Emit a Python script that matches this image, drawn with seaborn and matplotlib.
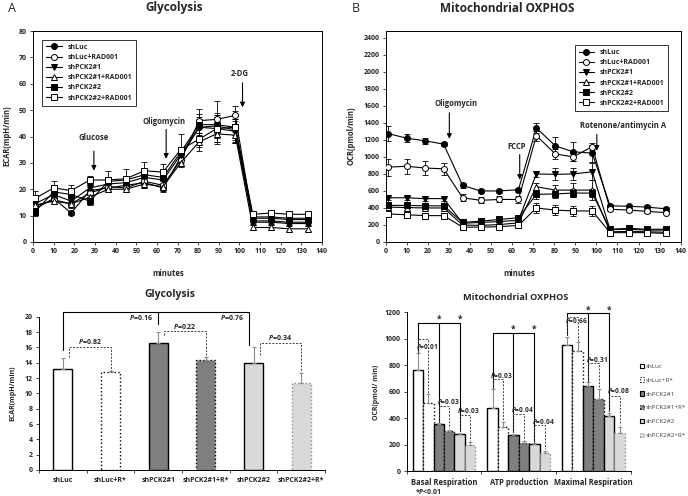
import numpy as np
import pandas as pd
import seaborn as sns
import matplotlib
matplotlib.use("Agg")
import matplotlib.pyplot as plt
from matplotlib.patches import Patch

# ---- data ----
minutes = [1, 10, 18.5, 27.5, 36.5, 45, 54, 63, 71.5, 80.5, 89, 98, 106.5, 115.5, 124, 133]
series_names = ["shLuc", "shLuc+RAD001", "shPCK2#1", "shPCK2#1+RAD001", "shPCK2#2", "shPCK2#2+RAD001"]

ecar_shluc = [12.5, 16.5, 11, 19.5, 20.5, 21.5, 22.5, 20.5, 32, 43.5, 44, 42.5, 9, 9, 8.5, 8.5]
ecar_shluc_rad = [13.5, 16, 14.5, 18.5, 21, 20.5, 23, 21.5, 31, 46, 46.5, 48, 8, 8, 7.5, 7.5]
ecar_pck1 = [14.5, 18, 15.5, 20.5, 22, 22.5, 24.5, 23.5, 33, 43.5, 43, 42, 7.5, 7.5, 7, 7]
ecar_pck1_rad = [14, 15.5, 14.5, 17, 20, 20, 22, 21, 30, 38, 41, 40.5, 5.5, 5.5, 5, 5]
ecar_pck2 = [11.5, 19, 18, 15.5, 23, 23.5, 25.5, 24.5, 34, 44.5, 44.5, 43.5, 9.5, 9.5, 9, 9]
ecar_pck2_rad = [16.5, 20.5, 19.5, 23.5, 23.5, 24, 27, 26.5, 35, 39, 43, 43.5, 10.5, 11, 10.5, 10.5]

ecar_err_shluc = [1.5, 1, 0.8, 1.5, 1.5, 1.5, 2, 1.5, 2, 5, 4, 4, 1, 1, 1, 1]
ecar_err_shluc_rad = [2, 1.5, 1.5, 1.5, 1.5, 1.5, 1.5, 1.5, 2, 4.5, 7, 3.5, 1, 1, 1, 1]
ecar_err_pck1 = [1.5, 1.5, 1.5, 1.5, 1.5, 1.5, 1.5, 1.5, 2, 3, 5, 4, 1, 1, 1, 1]
ecar_err_pck1_rad = [1.5, 1, 1, 1, 1, 1, 1.5, 1.5, 1.5, 2, 3, 3, 1, 1, 1, 1]
ecar_err_pck2 = [1.5, 1.5, 1.5, 1.5, 1.5, 1.5, 1.5, 1.5, 2, 3, 3, 3, 1, 1, 1, 1]
ecar_err_pck2_rad = [3, 2.5, 2, 1.5, 3.5, 3.5, 3.5, 3, 6, 4.5, 6, 6, 1, 1, 1, 1]

ocr_shluc = [1275, 1220, 1190, 1150, 665, 600, 600, 615, 1340, 1130, 1060, 1045, 425, 420, 410, 390]
ocr_shluc_rad = [880, 890, 870, 860, 520, 490, 500, 500, 1250, 1035, 1000, 1120, 385, 375, 360, 345]
ocr_pck1 = [520, 520, 510, 510, 220, 230, 240, 255, 800, 795, 800, 825, 145, 150, 140, 140]
ocr_pck1_rad = [410, 405, 400, 400, 200, 195, 205, 225, 650, 610, 610, 610, 120, 125, 120, 115]
ocr_pck2 = [430, 430, 425, 425, 230, 245, 265, 285, 560, 565, 575, 575, 150, 160, 150, 150]
ocr_pck2_rad = [330, 320, 310, 310, 175, 175, 180, 195, 400, 375, 365, 365, 110, 110, 110, 100]

ocr_err_shluc = [85, 45, 35, 20, 25, 20, 20, 25, 60, 110, 110, 100, 20, 20, 20, 20]
ocr_err_shluc_rad = [100, 85, 80, 70, 40, 35, 35, 40, 60, 60, 50, 40, 20, 20, 20, 20]
ocr_err_pck1 = [30, 25, 25, 25, 25, 25, 25, 25, 40, 70, 70, 100, 20, 20, 20, 20]
ocr_err_pck1_rad = [25, 25, 25, 25, 20, 20, 20, 20, 40, 60, 80, 120, 20, 20, 20, 20]
ocr_err_pck2 = [30, 30, 30, 30, 25, 25, 25, 25, 50, 50, 50, 50, 20, 20, 20, 20]
ocr_err_pck2_rad = [30, 30, 25, 25, 20, 20, 20, 20, 60, 60, 60, 60, 20, 20, 20, 20]

bar_labels = ["shLuc", "shLuc+R*", "shPCK2#1", "shPCK2#1+R*", "shPCK2#2", "shPCK2#2+R*"]
gly_mean = [13.2, 12.8, 16.6, 14.3, 14.0, 11.4]
gly_err = [1.4, 0.1, 1.4, 0.5, 2.0, 1.3]

measures = ["Basal Respiration", "ATP production", "Maximal Respiration"]
ox_shluc = [760, 480, 950]
ox_shluc_r = [515, 330, 910]
ox_pck1 = [355, 270, 640]
ox_pck1_r = [300, 215, 545]
ox_pck2 = [280, 205, 415]
ox_pck2_r = [200, 135, 290]
ox_err_shluc = [130, 140, 65]
ox_err_shluc_r = [65, 40, 65]
ox_err_pck1 = [5, 12, 30]
ox_err_pck1_r = [12, 13, 75]
ox_err_pck2 = [10, 7, 25]
ox_err_pck2_r = [18, 20, 45]

# ---- style ----
sns.set_style("ticks")
plt.rcParams["font.family"] = ["Open Sans", "DejaVu Sans"]
plt.rcParams["font.weight"] = "bold"
plt.rcParams["mathtext.fontset"] = "custom"
plt.rcParams["mathtext.it"] = "Open Sans:italic:bold"
plt.rcParams["mathtext.rm"] = "Open Sans:bold"

W, H = 688, 496
fig = plt.figure(figsize=(W / 100, H / 100), dpi=100)


def fx(px):
    return px / W


def fy(py):
    return 1 - py / H


markers = ["o", "o", "v", "^", "s", "s"]
faces = ["black", "white", "black", "white", "black", "white"]


def time_panel(ax, ys, errs):
    for name, y, e, mk, fc in zip(series_names, ys, errs, markers, faces):
        ax.errorbar(minutes, y, yerr=e, fmt="none", ecolor="black", elinewidth=0.6,
                    capsize=2, capthick=0.6, zorder=2)
        sns.lineplot(x=minutes, y=y, ax=ax, color="black", marker=mk, markerfacecolor=fc,
                     markeredgecolor="black", markersize=4.3, markeredgewidth=0.7,
                     linewidth=0.8, label=name, errorbar=None, zorder=3)
    ax.set_xlim(0, 140)
    ax.set_xticks(np.arange(0, 141, 10))
    ax.tick_params(labelsize=5, length=2.5, width=0.6, pad=2)
    for s in ax.spines.values():
        s.set_linewidth(0.7)
        s.set_color("black")
    ax.set_xlabel("")
    ax.set_ylabel("")


def arrow(ax, x, y0, y1, text, tx, ty):
    ax.annotate("", xy=(x, y1), xytext=(x, y0),
                arrowprops=dict(arrowstyle="-|>", color="black", lw=0.8, mutation_scale=7))
    ax.text(tx, ty, text, ha="center", va="center", fontsize=5.5, fontweight="bold")


# ---- A: glycolysis time course ----
axA = fig.add_axes([fx(33), fy(242), fx(289), (242 - 31) / H])
time_panel(axA,
           [ecar_shluc, ecar_shluc_rad, ecar_pck1, ecar_pck1_rad, ecar_pck2, ecar_pck2_rad],
           [ecar_err_shluc, ecar_err_shluc_rad, ecar_err_pck1, ecar_err_pck1_rad,
            ecar_err_pck2, ecar_err_pck2_rad])
axA.set_ylim(0, 80)
axA.set_yticks(np.arange(0, 81, 10))
legA = axA.legend(loc="upper left", bbox_to_anchor=(0.02, 0.975), fontsize=5, frameon=True,
                  fancybox=False, edgecolor="black", handlelength=2.2, labelspacing=0.45,
                  borderpad=0.6)
legA.get_frame().set_linewidth(0.7)
arrow(axA, 29.5, 35.5, 26, "Glucose", 29.5, 39.5)
arrow(axA, 64.5, 43.7, 30.5, "Oligomycin", 63.3, 45.6)
arrow(axA, 101.5, 61.4, 50, "2-DG", 100.3, 64)

# ---- B: OXPHOS time course ----
axB = fig.add_axes([fx(385.7), fy(242), fx(295), (242 - 31) / H])
time_panel(axB,
           [ocr_shluc, ocr_shluc_rad, ocr_pck1, ocr_pck1_rad, ocr_pck2, ocr_pck2_rad],
           [ocr_err_shluc, ocr_err_shluc_rad, ocr_err_pck1, ocr_err_pck1_rad,
            ocr_err_pck2, ocr_err_pck2_rad])
axB.set_ylim(0, 2480)
axB.set_yticks(np.arange(0, 2401, 200))
legB = axB.legend(loc="upper right", bbox_to_anchor=(0.97, 0.95), fontsize=5, frameon=True,
                  fancybox=False, edgecolor="black", handlelength=2.2, labelspacing=0.45,
                  borderpad=0.6)
legB.get_frame().set_linewidth(0.7)
arrow(axB, 30.2, 1552, 1180, "Oligomycin", 33.4, 1630)
arrow(axB, 63.6, 1060, 700, "FCCP", 62, 1125)
arrow(axB, 100.2, 1298, 1040, "Rotenone/antimycin A", 112.5, 1365)

# ---- C: glycolysis bars ----
bar_faces = ["white", "white", "#7f7f7f", "#7f7f7f", "#d9d9d9", "#d9d9d9"]
bar_edges = ["black", "black", "black", "black", "black", "#8c8c8c"]
bar_ls = ["-", ":", "-", ":", "-", ":"]

axC = fig.add_axes([fx(39), fy(470), fx(286), (470 - 316.7) / H])
sns.barplot(x=bar_labels, y=gly_mean, hue=bar_labels, palette=bar_faces, width=0.4,
            legend=False, ax=axC, linewidth=1.0, edgecolor="black")
for p, ec, ls in zip(axC.patches, bar_edges, bar_ls):
    p.set_edgecolor(ec)
    p.set_linestyle(ls)
xs = np.arange(len(bar_labels))
axC.errorbar(xs, gly_mean, yerr=[np.zeros(len(xs)), gly_err], fmt="none", ecolor="#8c8c8c",
             elinewidth=0.8, capsize=1.5, capthick=0.8)
axC.set_ylim(0, 20)
axC.set_yticks(np.arange(0, 21, 2))
axC.set_xlim(-0.5, 5.5)
axC.set_xticks(xs)
axC.set_xticks(np.arange(-0.5, 6, 1), minor=True)
axC.tick_params(axis="x", which="major", length=0, labelsize=5, pad=5)
axC.tick_params(axis="x", which="minor", length=2.5, width=0.6)
axC.tick_params(axis="y", labelsize=5, length=2.5, width=0.6, pad=2)
sns.despine(ax=axC)
for s in ["left", "bottom"]:
    axC.spines[s].set_linewidth(0.7)
    axC.spines[s].set_color("black")

# solid comparison bracket
gly_top = 20.6
gly_legs = [(0, 15.6), (2, 19.1), (3.9, 16.3)]
axC.plot([gly_legs[0][0], gly_legs[-1][0]], [gly_top, gly_top], color="black", lw=0.8, clip_on=False)
for lx, lb in gly_legs:
    axC.plot([lx, lx], [lb, gly_top], color="black", lw=0.8, clip_on=False)
for txt, tx, ty in [("0.16", 1.88, 19.9), ("0.76", 3.8, 19.9)]:
    axC.text(tx, ty, "$P$=" + txt, ha="right", va="center", fontsize=5)
# dashed pairwise brackets
gly_pairs = [(0, 1, 14.8, 12.9, 16.1, "0.82"), (2, 3, 17.6, 14.8, 18.1, "0.22"),
             (4, 5, 15.0, 12.8, 16.6, "0.34")]
for i, j, b0, b1, h, txt in gly_pairs:
    axC.plot([i + 0.13, i + 0.13, j, j], [b0, h, h, b1], color="#404040", lw=0.7, ls=(0, (2, 1.5)))
    axC.text((i + 0.13 + j) / 2, h + 0.65, "$P$=" + txt, ha="center", va="center", fontsize=5)

# ---- D: OXPHOS bars ----
ox_vals = [ox_shluc, ox_shluc_r, ox_pck1, ox_pck1_r, ox_pck2, ox_pck2_r]
ox_errs = [ox_err_shluc, ox_err_shluc_r, ox_err_pck1, ox_err_pck1_r, ox_err_pck2, ox_err_pck2_r]
df_ox = pd.DataFrame({
    "measure": [m for _ in bar_labels for m in measures],
    "cond": [c for c in bar_labels for _ in measures],
    "ocr": [v for vals in ox_vals for v in vals],
})
axD = fig.add_axes([fx(406.7), fy(471), fx(224), (471 - 312.3) / H])
sns.barplot(data=df_ox, x="measure", y="ocr", hue="cond", palette=bar_faces, width=0.84,
            legend=False, ax=axD, linewidth=1.0, edgecolor="black")
centers = []
for cont, ec, ls, vals, errs in zip(axD.containers, bar_edges, bar_ls, ox_vals, ox_errs):
    cx = []
    for p in cont:
        p.set_edgecolor(ec)
        p.set_linestyle(ls)
        cx.append(p.get_x() + p.get_width() / 2)
    centers.append(cx)
    axD.errorbar(cx, vals, yerr=[np.zeros(len(vals)), errs], fmt="none", ecolor="#8c8c8c",
                 elinewidth=0.8, capsize=1.2, capthick=0.8)
axD.set_ylim(0, 1200)
axD.set_yticks(np.arange(0, 1201, 200))
axD.set_xlim(-0.5, 2.5)
axD.set_xticks(np.arange(-0.5, 3, 1), minor=True)
axD.tick_params(axis="x", which="major", length=0, labelsize=5.5, pad=5)
axD.tick_params(axis="x", which="minor", length=2.5, width=0.6)
axD.tick_params(axis="y", labelsize=5, length=2.5, width=0.6, pad=2)
axD.set_xlabel("")
axD.set_ylabel("")
sns.despine(ax=axD)
for s in ["left", "bottom"]:
    axD.spines[s].set_linewidth(0.7)
    axD.spines[s].set_color("black")

ox_solid_top = [1117, 1042, 1192]
for g in range(3):
    h = ox_solid_top[g]
    axD.plot([centers[0][g], centers[4][g]], [h, h], color="black", lw=0.8, clip_on=False)
    for k in [0, 2, 4]:
        base = ox_vals[k][g] + ox_errs[k][g] + 10
        axD.plot([centers[k][g]] * 2, [base, h], color="black", lw=0.8, clip_on=False)
    for k in [2, 4]:
        axD.text(centers[k][g], h + 28, "*", ha="center", va="center", fontsize=6)

ox_dash_h = [[995, 495, 420], [695, 430, 345], [1165, 815, 565]]
ox_dash_ty = [[940, 525, 456], [720, 464, 376], [1137, 841, 605]]
ox_dash_p = [["0.01", "0.03", "0.03"], ["0.03", "0.04", "0.04"], ["0.66", "0.31", "0.08"]]
for g in range(3):
    for n, (i, j) in enumerate([(0, 1), (2, 3), (4, 5)]):
        h = ox_dash_h[g][n]
        b0 = ox_vals[i][g] + ox_errs[i][g] + 10
        b1 = ox_vals[j][g] + ox_errs[j][g] + 10
        xi, xj = centers[i][g], centers[j][g]
        axD.plot([xi, xi, xj, xj], [b0, h, h, b1], color="#404040", lw=0.7, ls=(0, (2, 1.5)),
                 clip_on=False)
        axD.text(xi - 0.03, ox_dash_ty[g][n], "$P$=" + ox_dash_p[g][n], ha="left", va="center",
                 fontsize=4.8)

handles = [Patch(facecolor=fc, edgecolor=ec, linestyle=ls, linewidth=0.8)
           for fc, ec, ls in zip(bar_faces, bar_edges, bar_ls)]
fig.legend(handles, bar_labels, loc="upper left", bbox_to_anchor=(fx(634), fy(358)),
           frameon=False, handlelength=0.7, handleheight=0.7, labelspacing=1.35,
           handletextpad=0.3, labelcolor="#404040", prop={"weight": "normal", "size": 4.5})

# ---- figure text ----
fig.text(fx(12), fy(8), "A", fontsize=9, fontweight="normal", ha="center", va="center")
fig.text(fx(356), fy(8), "B", fontsize=9, fontweight="normal", ha="center", va="center")
fig.text(fx(174), fy(8), "Glycolysis", fontsize=8.5, ha="center", va="center")
fig.text(fx(507), fy(8), "Mitochondrial OXPHOS", fontsize=8.5, ha="center", va="center")
fig.text(fx(168), fy(273), "minutes", fontsize=5.5, ha="center", va="center")
fig.text(fx(519), fy(273), "minutes", fontsize=5.5, ha="center", va="center")
fig.text(fx(7), fy(136), "ECAR(mpH/min)", fontsize=5.5, rotation=90, ha="center", va="center")
fig.text(fx(351), fy(136), "OCR(pmol/min)", fontsize=5.5, rotation=90, ha="center", va="center")
fig.text(fx(170), fy(295), "Glycolysis", fontsize=7.5, ha="center", va="center")
fig.text(fx(516), fy(297), "Mitochondrial OXPHOS", fontsize=6.6, ha="center", va="center")
fig.text(fx(13), fy(393), "ECAR(mpH/min)", fontsize=5, rotation=90, ha="center", va="center")
fig.text(fx(377), fy(392), "OCR(pmol/ min)", fontsize=5, rotation=90, ha="center", va="center")
fig.text(fx(415), fy(491), "*$P$<0.01", fontsize=5, ha="left", va="center")

fig.savefig("out.png", dpi=100)
